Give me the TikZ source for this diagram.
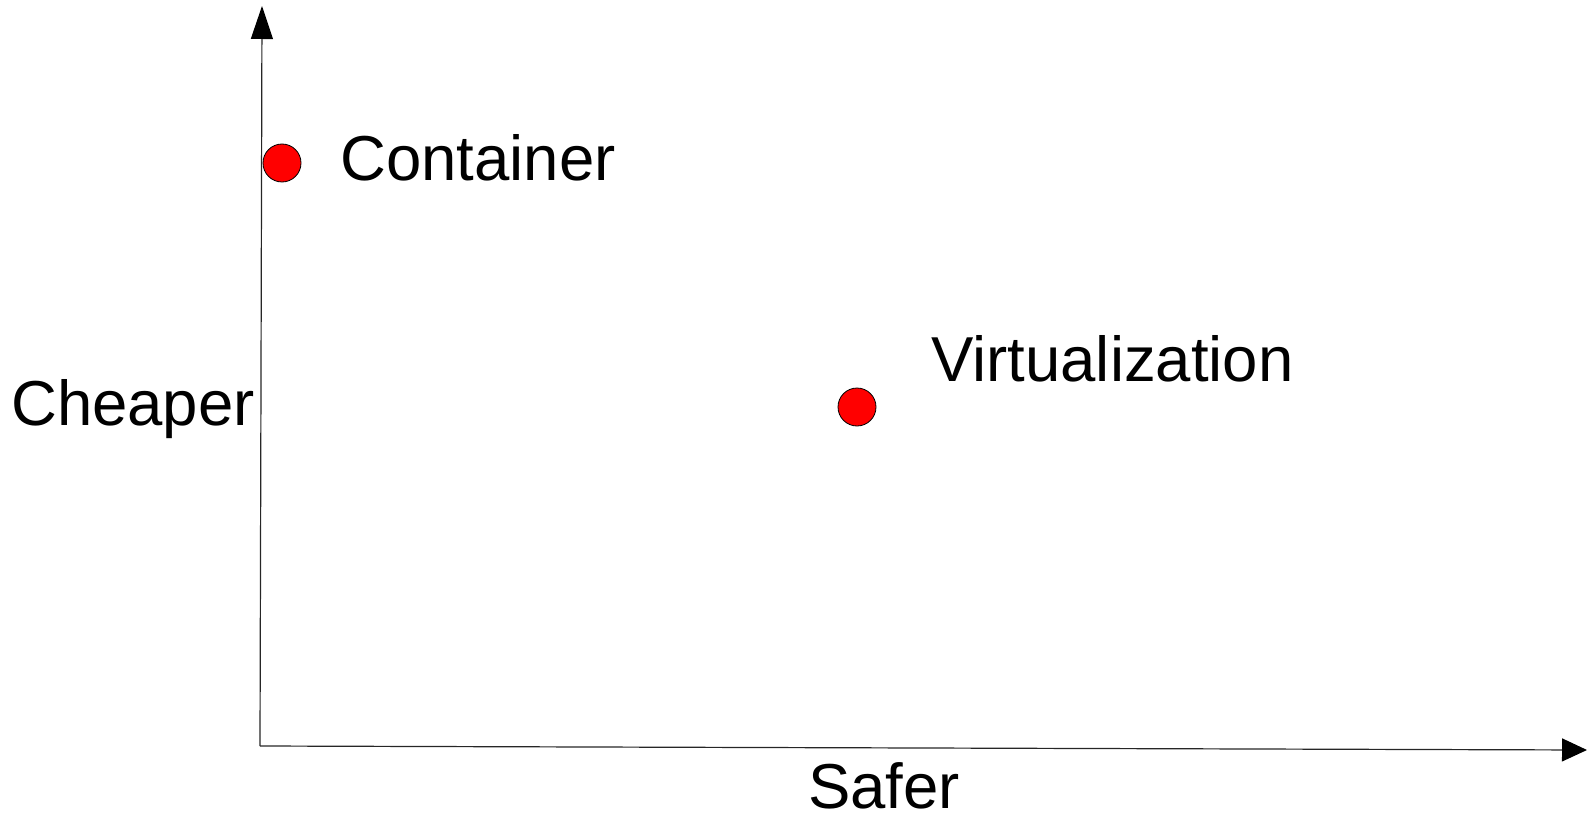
\documentclass[tikz,border=0pt]{standalone}
\usepackage{fontspec}
\setmainfont{Liberation Sans}
\usetikzlibrary{arrows.meta}
\begin{document}
\begin{tikzpicture}[x=1pt,y=-1pt,
  axis/.style={line width=1.2pt,draw=black!85},
  dot/.style={circle,draw=black,line width=0.8pt,fill=red,minimum size=38pt,inner sep=0pt},
  lbl/.style={anchor=base west,inner sep=0pt,font=\fontsize{63.5}{76}\selectfont}]
\useasboundingbox (0,0) rectangle (1587,821);
\coordinate (O) at (260,746);
\coordinate (T) at (262,6);
\coordinate (R) at (1587,750);
\draw[axis,-{Triangle[length=33pt,width=22pt,color=black]}] (O) -- (T);
\draw[axis,-{Triangle[length=25pt,width=23pt,color=black]}] (O) -- (R);
\node[dot] (c) at (282,163) {};
\node[dot] (v) at (857,407) {};
\node[lbl] (cl) at (340,181) {Container};
\node[lbl] (vl) at (931,381) {Virtualization};
\node[lbl] (ch) at (11,425) {Cheaper};
\node[lbl] (sf) at (808,808) {Safer};
\end{tikzpicture}
\end{document}
